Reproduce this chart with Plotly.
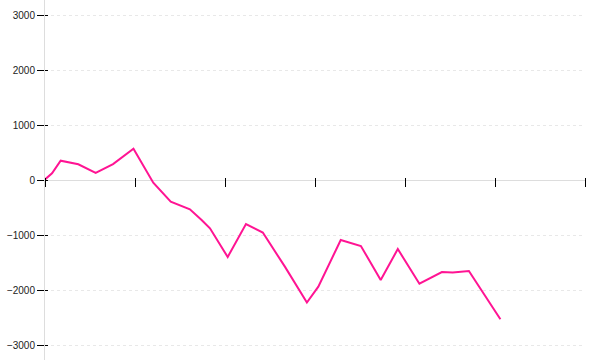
import plotly.graph_objects as go

x_vals = [0, 0.78, 1.74, 3.7, 5.63, 7.56, 9.83, 12.03, 13.97, 16.1, 17.4, 18.33,
          20.3, 22.33, 24.2, 26.67, 29.1, 30.37, 32.86, 35.1, 37.3, 39.2, 41.6,
          44.1, 45.3, 47.1, 50.6]
y_vals = [10, 122, 351, 285, 129, 290, 569, -49, -395, -533, -727, -878,
          -1400, -800, -955, -1580, -2227, -1940, -1091, -1200, -1818, -1255,
          -1885, -1673, -1682, -1655, -2533]
y_ticks = [-3000, -2000, -1000, 0, 1000, 2000, 3000]
x_ticks = [0, 10, 20, 30, 40, 50, 60]

YR = [-3272.7, 3272.7]
XR = [0, 60]

fig = go.Figure()
fig.add_trace(go.Scatter(x=x_vals, y=y_vals, mode="lines",
                         line=dict(color="#ff1493", width=2), showlegend=False))
# dummy trace for overlay axis
fig.add_trace(go.Scatter(x=[None], y=[None], yaxis="y2", showlegend=False))

fig.update_layout(
    width=600, height=360,
    margin=dict(l=45, r=15, t=0, b=0),
    paper_bgcolor="white", plot_bgcolor="white",
    xaxis=dict(range=XR, tickvals=x_ticks, showticklabels=False,
               ticks="outside", ticklen=9, tickcolor="#000", tickwidth=1,
               showline=False, showgrid=False, zeroline=False,
               anchor="free", position=(180 - 177) / 360 + 0.5),
    yaxis=dict(range=YR, tickvals=y_ticks, ticks="outside", ticklen=7,
               tickcolor="#000", tickwidth=1,
               showline=True, linecolor="#dddddd", linewidth=1,
               showgrid=True, gridcolor="#e8e8e8", gridwidth=1, griddash="3px,3px",
               zeroline=True, zerolinecolor="#dddddd", zerolinewidth=1,
               tickfont=dict(family="Liberation Sans", size=10, color="#222")),
    yaxis2=dict(range=YR, tickvals=y_ticks, overlaying="y", side="left",
                ticks="inside", ticklen=3, tickcolor="#000", tickwidth=1,
                showticklabels=False, showgrid=False, zeroline=False, showline=False),
)

fig.write_html("out.html")
